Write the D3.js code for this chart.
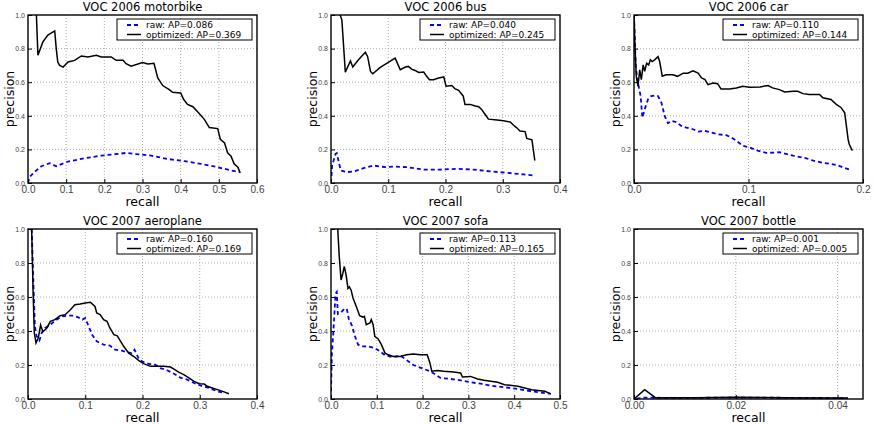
<!DOCTYPE html>
<html lang="en">
<head>
<meta charset="utf-8">
<script src="https://cdn.jsdelivr.net/npm/d3@7"></script>
<style>
    body { margin: 0; background: white; }
    svg { font-family: "DejaVu Sans", sans-serif; }
    .grid line { stroke: #999; stroke-width: 0.8px; stroke-dasharray: 1,2; }
    .spine { fill: none; stroke: black; stroke-width: 1.4px; }
    .title { font-size: 11.5px; text-anchor: middle; }
    .axlabel { font-size: 12.5px; text-anchor: middle; }
    .ytick { font-size: 7px; fill: #444; text-anchor: end; }
    .xtick { font-size: 10px; fill: #444; text-anchor: middle; }
    .legend text { font-size: 9px; }
</style>
</head>
<body>
<script>
// panel titles and legend values
const titles = ["VOC 2006 motorbike", "VOC 2006 bus", "VOC 2006 car",
                "VOC 2007 aeroplane", "VOC 2007 sofa", "VOC 2007 bottle"];
const rawAP = ["0.086", "0.040", "0.110", "0.160", "0.113", "0.001"];
const optAP = ["0.369", "0.245", "0.144", "0.169", "0.165", "0.005"];
const recallMax = [0.6, 0.4, 0.2, 0.4, 0.5, 0.045];
const recallTicks = [
    [0, 0.1, 0.2, 0.3, 0.4, 0.5, 0.6],
    [0, 0.1, 0.2, 0.3, 0.4],
    [0, 0.1, 0.2],
    [0, 0.1, 0.2, 0.3, 0.4],
    [0, 0.1, 0.2, 0.3, 0.4, 0.5],
    [0, 0.02, 0.04]
];
const recallFormat = [".1f", ".1f", ".1f", ".1f", ".1f", ".2f"];
const precisionTicks = [0, 0.2, 0.4, 0.6, 0.8, 1.0];

// [recall, precision]
const motorbikeRaw = [[0,0],[0.004,0.035],[0.017,0.065],[0.035,0.10],[0.057,0.118],[0.074,0.10],[0.105,0.128],[0.148,0.147],[0.192,0.163],[0.235,0.173],[0.257,0.179],[0.279,0.173],[0.323,0.163],[0.366,0.143],[0.41,0.13],[0.453,0.114],[0.497,0.094],[0.532,0.075],[0.554,0.065]];
const motorbikeOpt = [[0.022,1.05],[0.022,1.0],[0.026,0.76],[0.039,0.84],[0.052,0.88],[0.070,0.905],[0.074,0.80],[0.078,0.72],[0.083,0.70],[0.092,0.69],[0.105,0.72],[0.122,0.73],[0.14,0.756],[0.157,0.75],[0.179,0.76],[0.192,0.75],[0.218,0.75],[0.231,0.73],[0.249,0.73],[0.257,0.71],[0.27,0.695],[0.30,0.717],[0.314,0.709],[0.33,0.713],[0.34,0.625],[0.353,0.58],[0.37,0.556],[0.379,0.54],[0.40,0.536],[0.408,0.497],[0.418,0.468],[0.432,0.454],[0.445,0.422],[0.462,0.379],[0.475,0.33],[0.497,0.324],[0.504,0.26],[0.515,0.238],[0.523,0.18],[0.532,0.16],[0.54,0.114],[0.55,0.094],[0.556,0.06]];
const busRaw = [[0,0],[0.002,0.104],[0.008,0.173],[0.01,0.177],[0.015,0.104],[0.017,0.075],[0.028,0.065],[0.04,0.069],[0.057,0.088],[0.074,0.104],[0.095,0.094],[0.109,0.098],[0.133,0.094],[0.162,0.08],[0.191,0.08],[0.22,0.084],[0.249,0.08],[0.278,0.069],[0.307,0.061],[0.336,0.051],[0.353,0.045]];
const busOpt = [[0.016,1.05],[0.016,1.0],[0.019,0.97],[0.025,0.66],[0.034,0.727],[0.038,0.69],[0.048,0.733],[0.06,0.778],[0.064,0.752],[0.069,0.664],[0.073,0.65],[0.086,0.688],[0.098,0.713],[0.112,0.743],[0.121,0.674],[0.13,0.69],[0.135,0.694],[0.141,0.678],[0.147,0.67],[0.153,0.658],[0.162,0.66],[0.167,0.635],[0.172,0.615],[0.179,0.615],[0.188,0.625],[0.197,0.631],[0.201,0.576],[0.211,0.58],[0.217,0.56],[0.223,0.552],[0.228,0.53],[0.231,0.517],[0.234,0.468],[0.243,0.468],[0.252,0.458],[0.258,0.454],[0.263,0.438],[0.269,0.409],[0.275,0.38],[0.29,0.375],[0.301,0.37],[0.313,0.363],[0.319,0.344],[0.324,0.33],[0.33,0.31],[0.339,0.306],[0.342,0.265],[0.351,0.257],[0.356,0.134]];
const carRaw = [[0,1.0],[0.0015,0.69],[0.0035,0.595],[0.0058,0.517],[0.0073,0.389],[0.0093,0.438],[0.0122,0.497],[0.015,0.517],[0.018,0.521],[0.021,0.517],[0.024,0.477],[0.0268,0.399],[0.0297,0.356],[0.0326,0.37],[0.037,0.363],[0.0413,0.34],[0.0457,0.33],[0.0515,0.32],[0.056,0.306],[0.0617,0.31],[0.0675,0.30],[0.0734,0.29],[0.0806,0.285],[0.085,0.271],[0.0894,0.251],[0.095,0.222],[0.101,0.212],[0.108,0.193],[0.1156,0.179],[0.127,0.183],[0.139,0.163],[0.1505,0.147],[0.156,0.134],[0.165,0.12],[0.1767,0.108],[0.188,0.08]];
const carOpt = [[0,1.0],[0.001,0.79],[0.002,0.635],[0.0035,0.576],[0.005,0.674],[0.0064,0.615],[0.008,0.703],[0.0093,0.664],[0.011,0.713],[0.0128,0.703],[0.0143,0.733],[0.016,0.723],[0.018,0.733],[0.021,0.752],[0.0224,0.723],[0.0247,0.635],[0.028,0.644],[0.034,0.644],[0.038,0.635],[0.043,0.654],[0.047,0.654],[0.0515,0.668],[0.056,0.654],[0.059,0.625],[0.062,0.615],[0.0646,0.585],[0.069,0.595],[0.073,0.591],[0.076,0.56],[0.0836,0.56],[0.0894,0.566],[0.095,0.576],[0.101,0.57],[0.11,0.572],[0.117,0.58],[0.121,0.566],[0.127,0.556],[0.1316,0.542],[0.139,0.546],[0.143,0.546],[0.1476,0.532],[0.153,0.527],[0.162,0.527],[0.165,0.507],[0.172,0.497],[0.1767,0.468],[0.181,0.448],[0.184,0.418],[0.1855,0.34],[0.187,0.26],[0.188,0.23],[0.1907,0.193]];
const aeroplaneRaw = [[0.0064,1.0],[0.009,0.72],[0.012,0.43],[0.015,0.37],[0.02,0.345],[0.024,0.39],[0.03,0.418],[0.039,0.437],[0.047,0.46],[0.059,0.486],[0.068,0.49],[0.079,0.49],[0.088,0.48],[0.095,0.467],[0.10,0.476],[0.106,0.427],[0.112,0.378],[0.12,0.339],[0.132,0.32],[0.143,0.314],[0.152,0.29],[0.164,0.284],[0.173,0.276],[0.181,0.27],[0.186,0.29],[0.193,0.241],[0.199,0.222],[0.211,0.206],[0.222,0.202],[0.231,0.182],[0.243,0.169],[0.255,0.149],[0.267,0.124],[0.278,0.114],[0.29,0.094],[0.302,0.078],[0.316,0.065],[0.331,0.045],[0.343,0.035]];
const aeroplaneOpt = [[0.0064,1.0],[0.009,0.62],[0.011,0.39],[0.014,0.33],[0.018,0.36],[0.022,0.435],[0.026,0.396],[0.033,0.418],[0.039,0.457],[0.047,0.467],[0.056,0.49],[0.065,0.496],[0.074,0.525],[0.082,0.555],[0.091,0.559],[0.10,0.565],[0.109,0.569],[0.117,0.545],[0.12,0.506],[0.126,0.496],[0.132,0.467],[0.138,0.457],[0.143,0.418],[0.15,0.378],[0.156,0.372],[0.161,0.343],[0.167,0.31],[0.176,0.27],[0.185,0.25],[0.193,0.227],[0.202,0.208],[0.214,0.192],[0.226,0.192],[0.237,0.192],[0.249,0.188],[0.255,0.176],[0.264,0.157],[0.272,0.143],[0.281,0.124],[0.29,0.104],[0.299,0.09],[0.308,0.088],[0.313,0.075],[0.322,0.065],[0.331,0.055],[0.34,0.045],[0.351,0.031]];
const sofaRaw = [[0,0.045],[0.002,0.27],[0.005,0.39],[0.01,0.62],[0.0125,0.63],[0.015,0.50],[0.022,0.51],[0.029,0.53],[0.0345,0.53],[0.039,0.47],[0.046,0.43],[0.051,0.38],[0.059,0.32],[0.066,0.31],[0.081,0.31],[0.0956,0.30],[0.107,0.28],[0.118,0.257],[0.129,0.25],[0.143,0.25],[0.151,0.257],[0.162,0.235],[0.18,0.20],[0.199,0.18],[0.217,0.163],[0.239,0.124],[0.261,0.118],[0.283,0.11],[0.305,0.098],[0.327,0.09],[0.349,0.078],[0.379,0.069],[0.408,0.059],[0.438,0.045],[0.467,0.035],[0.48,0.03]];
const sofaOpt = [[0.0147,1.05],[0.0147,1.0],[0.018,0.84],[0.022,0.70],[0.026,0.74],[0.029,0.78],[0.033,0.73],[0.037,0.65],[0.04,0.66],[0.044,0.64],[0.048,0.594],[0.055,0.545],[0.0625,0.49],[0.07,0.482],[0.073,0.486],[0.077,0.437],[0.085,0.447],[0.088,0.467],[0.092,0.437],[0.0956,0.369],[0.103,0.353],[0.11,0.32],[0.118,0.27],[0.125,0.26],[0.136,0.25],[0.151,0.25],[0.165,0.26],[0.18,0.265],[0.195,0.26],[0.21,0.26],[0.216,0.212],[0.22,0.163],[0.232,0.167],[0.246,0.163],[0.268,0.159],[0.283,0.153],[0.287,0.129],[0.305,0.133],[0.32,0.118],[0.334,0.11],[0.364,0.098],[0.379,0.084],[0.408,0.075],[0.438,0.055],[0.467,0.045],[0.48,0.03]];
const bottleRaw = [[0.0005,0.002],[0.002,0.008],[0.01,0.006],[0.02,0.009],[0.03,0.007],[0.042,0.005]];
const bottleOpt = [[0,0],[0.0021,0.055],[0.0042,0.008],[0.012,0.008],[0.02,0.011],[0.03,0.008],[0.042,0.006]];

const rawSeries = [motorbikeRaw, busRaw, carRaw, aeroplaneRaw, sofaRaw, bottleRaw];
const optSeries = [motorbikeOpt, busOpt, carOpt, aeroplaneOpt, sofaOpt, bottleOpt];

const colLeft = [28, 331, 634];
const rowTop = [15, 229];
const rowH = [168, 170];
const axW = 229;

const svg = d3.select("body").append("svg")
    .attr("width", 874).attr("height", 424);

titles.forEach(function (title, i) {
    const col = i % 3, row = Math.floor(i / 3);
    const h = rowH[row];
    const g = svg.append("g")
        .attr("transform", "translate(" + colLeft[col] + "," + rowTop[row] + ")");

    const x = d3.scaleLinear().domain([0, recallMax[i]]).range([0, axW]);
    const y = d3.scaleLinear().domain([0, 1]).range([h, 0]);

    g.append("clipPath").attr("id", "clip" + i)
        .append("rect").attr("width", axW).attr("height", h);

    // dotted grid at the inner ticks
    const gridX = recallTicks[i].filter(d => d > 0 && d < recallMax[i]);
    const grid = g.append("g").attr("class", "grid");
    grid.selectAll(".gx").data(gridX)
        .enter().append("line")
        .attr("x1", d => x(d)).attr("x2", d => x(d))
        .attr("y1", 0).attr("y2", h);
    grid.selectAll(".gy").data(precisionTicks.slice(1, -1))
        .enter().append("line")
        .attr("x1", 0).attr("x2", axW)
        .attr("y1", d => y(d)).attr("y2", d => y(d));

    // curves
    const line = d3.line().x(d => x(d[0])).y(d => y(d[1]));
    const curves = g.append("g").attr("clip-path", "url(#clip" + i + ")");
    curves.append("path").datum(rawSeries[i])
        .attr("d", line)
        .attr("fill", "none").attr("stroke", "#0000ff")
        .attr("stroke-width", 1.8).attr("stroke-dasharray", "4,3");
    curves.append("path").datum(optSeries[i])
        .attr("d", line)
        .attr("fill", "none").attr("stroke", "black")
        .attr("stroke-width", 1.5);

    // axes (inward ticks, matplotlib style)
    const xAxis = d3.axisBottom(x).tickValues(recallTicks[i])
        .tickFormat(d3.format(recallFormat[i])).tickSize(-4).tickPadding(3);
    const gx = g.append("g").attr("transform", "translate(0," + h + ")").call(xAxis);
    gx.select(".domain").remove();
    gx.selectAll("text").attr("class", "xtick").attr("fill", null);
    gx.selectAll("line").attr("stroke", "black");

    const yAxis = d3.axisLeft(y).tickValues(precisionTicks)
        .tickFormat(d3.format(".1f")).tickSize(-4).tickPadding(3);
    const gy = g.append("g").call(yAxis);
    gy.select(".domain").remove();
    gy.selectAll("text").attr("class", "ytick").attr("fill", null);
    gy.selectAll("line").attr("stroke", "black");

    g.append("rect").attr("class", "spine")
        .attr("width", axW).attr("height", h);

    // labels
    g.append("text").attr("class", "title")
        .attr("x", axW / 2).attr("y", -4)
        .text(title);
    g.append("text").attr("class", "axlabel")
        .attr("x", axW / 2).attr("y", h + 22.5)
        .text("recall");
    g.append("text").attr("class", "axlabel")
        .attr("transform", "translate(-14," + (h / 2) + ") rotate(-90)")
        .text("precision");

    // legend
    const lg = g.append("g").attr("class", "legend")
        .attr("transform", "translate(" + (axW - 140) + ",4)");
    lg.append("rect").attr("width", 135).attr("height", 21)
        .attr("fill", "white").attr("stroke", "black").attr("stroke-width", 1);
    const entries = [
        {label: "raw: AP=" + rawAP[i], color: "#0000ff", dash: "4,3", w: 1.8},
        {label: "optimized: AP=" + optAP[i], color: "black", dash: null, w: 1.5}
    ];
    entries.forEach(function (e, k) {
        const yy = 6 + k * 9.5;
        lg.append("line")
            .attr("x1", 10).attr("x2", 24).attr("y1", yy).attr("y2", yy)
            .attr("stroke", e.color).attr("stroke-width", e.w)
            .attr("stroke-dasharray", e.dash);
        lg.append("text").attr("x", 29).attr("y", yy + 3.2).text(e.label);
    });
});
</script>
</body>
</html>
